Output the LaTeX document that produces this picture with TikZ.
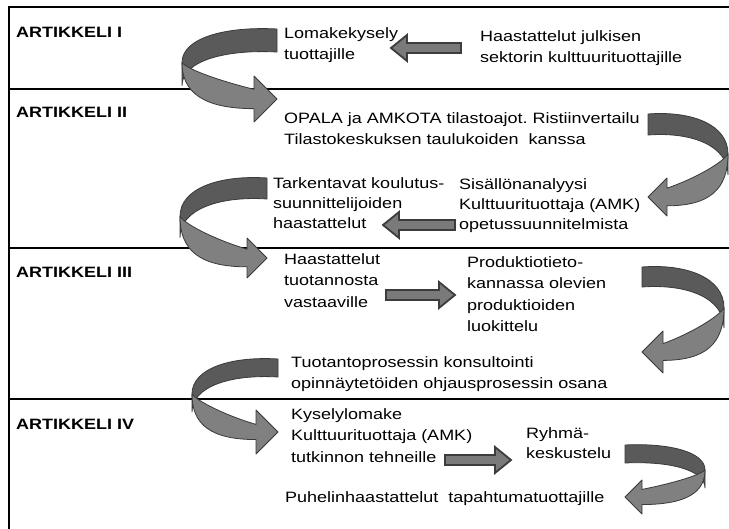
\documentclass[tikz,border=0pt]{standalone}
\usepackage{fontspec}
\setmainfont{Liberation Sans}[FakeStretch=1.2]
\usetikzlibrary{calc}
\frenchspacing

\definecolor{bandback}{HTML}{5A5A5A}
\definecolor{bandfront}{HTML}{808080}
\definecolor{bandedge}{HTML}{3A3A3A}
\definecolor{flatfill}{HTML}{7A7A7A}
\definecolor{flatedge}{HTML}{3C3C3C}

\tikzset{
  rule/.style={line width=2.3pt, black},
  backface/.style={fill=bandback, draw=bandedge, line width=0.8pt, line join=round},
  frontface/.style={fill=bandfront, draw=bandedge, line width=0.8pt, line join=round},
  flatarrow/.style={fill=flatfill, draw=flatedge, line width=1.8pt, line join=miter},
  txt/.style={anchor=north west, inner sep=0pt, align=left,
    font=\fontsize{15}{21.5}\selectfont},
  txtn/.style={txt, font=\fontsize{15}{20}\selectfont},
  head/.style={txt, font=\fontsize{15}{21.5}\selectfont\bfseries},
}

% Ribbon-like U-turn arrow.
% #1,#2: corner of the tail end; #3: +1 bends right, -1 bends left;
% #4: reach of the bend; #5: drop from tail to tip; #6: band width; #7: head half-size
\newcommand{\uturn}[7]{%
  \begin{scope}[shift={(#1,#2)}, xscale=#3]
    \filldraw[backface] (0,0)
      .. controls ({0.55*#4},{-0.04*#5}) and ({#4},{0.13*#5}) .. ({#4},{0.48*#5})
      -- ({#4},{0.48*#5+#6})
      .. controls ({#4},{0.13*#5+#6}) and ({0.55*#4},{-0.04*#5+#6}) .. (0,#6)
      -- cycle;
    \filldraw[frontface] ({#4},{0.48*#5})
      .. controls ({#4},{0.9*#5}) and ({0.78*#4},{#5+0.42*#6}) .. (#7,{#5+0.42*#6})
      -- (#7,{#5+#7}) -- (0,#5) -- (#7,{#5-#7}) -- (#7,{#5-0.42*#6})
      .. controls ({0.6*#4},{#5-0.42*#6-0.12*#5}) and ({0.94*#4},{0.58*#5}) .. ({#4},{0.48*#5})
      -- cycle;
  \end{scope}}

% Straight block arrow between two named coordinates on one level
\newcommand{\blockarrow}[2]{%
  \path[flatarrow] let \p1=(#1), \p2=(#2), \n1={sign(\x2-\x1)} in
    (\x1,{\y1+5pt}) -- ({\x2-\n1*16pt},{\y1+5pt}) -- ({\x2-\n1*16pt},{\y1+13pt})
    -- (\x2,\y1) -- ({\x2-\n1*16pt},{\y1-13pt}) -- ({\x2-\n1*16pt},{\y1-5pt})
    -- (\x1,{\y1-5pt}) -- cycle;}

\begin{document}
\begin{tikzpicture}[x=1pt, y=-1pt]
  \useasboundingbox (0,0) rectangle (729,529);

  % table rules
  \draw[rule] (9,7) -- (729,7);
  \draw[rule] (9,89) -- (729,89);
  \draw[rule] (9,248) -- (729,248);
  \draw[rule] (9,399) -- (729,399);
  \draw[rule] (9,5.85) -- (9,529);

  % U-turn arrows
  \uturn{277}{29}{-1}{95}{70}{23}{23}
  \uturn{648}{114}{1}{80}{83}{21}{19}
  \uturn{267}{178}{-1}{87}{80}{21}{20}
  \uturn{642}{267}{1}{82}{85}{20}{21}
  \uturn{278}{359}{-1}{86}{73}{18}{22}
  \uturn{625}{445}{1}{80}{52}{18}{17}

  % straight arrows
  \coordinate (s1a) at (461,48);  \coordinate (s1b) at (391,48);
  \coordinate (s2a) at (455,225); \coordinate (s2b) at (383,225);
  \coordinate (s3a) at (386,295); \coordinate (s3b) at (455,295);
  \coordinate (s4a) at (445,460); \coordinate (s4b) at (511,460);
  \blockarrow{s1a}{s1b}
  \blockarrow{s2a}{s2b}
  \blockarrow{s3a}{s3b}
  \blockarrow{s4a}{s4b}

  % row headings
  \node[head] (h1) at (16,27)  {ARTIKKELI I};
  \node[head] (h2) at (16,107) {ARTIKKELI II};
  \node[head] (h3) at (16,267) {ARTIKKELI III};
  \node[head] (h4) at (16,419) {ARTIKKELI IV};

  % steps
  \node[txt] (loma) at (284,27) {Lomakekysely\\tuottajille};
  \node[txt] (haas) at (480,30) {Haastattelut julkisen\\sektorin kulttuurituottajille};
  \node[txt] (opal) at (284,112) {OPALA ja AMKOTA tilastoajot. Ristiinvertailu\\Tilastokeskuksen taulukoiden~ kanssa};
  \node[txtn] (tark) at (273,177) {Tarkentavat koulutus-\\suunnittelijoiden\\haastattelut};
  \node[txtn] (sisa) at (459,178) {Sisällönanalyysi\\Kulttuurituottaja (AMK)\\opetussuunnitelmista};
  \node[txt] (tuot) at (284,253) {Haastattelut\\tuotannosta\\vastaaville};
  \node[txt] (prod) at (467,256) {Produktiotieto-\\kannassa olevien\\produktioiden\\luokittelu};
  \node[txt] (kons) at (291,356) {Tuotantoprosessin konsultointi\\opinnäytetöiden ohjausprosessin osana};
  \node[txt] (kyse) at (291,408) {Kyselylomake\\Kulttuurituottaja (AMK)\\tutkinnon tehneille};
  \node[txtn] (ryhm) at (526,427) {Ryhmä-\\keskustelu};
  \node[txt] (puhe) at (285,491) {Puhelinhaastattelut~ tapahtumatuottajille};
\end{tikzpicture}
\end{document}
